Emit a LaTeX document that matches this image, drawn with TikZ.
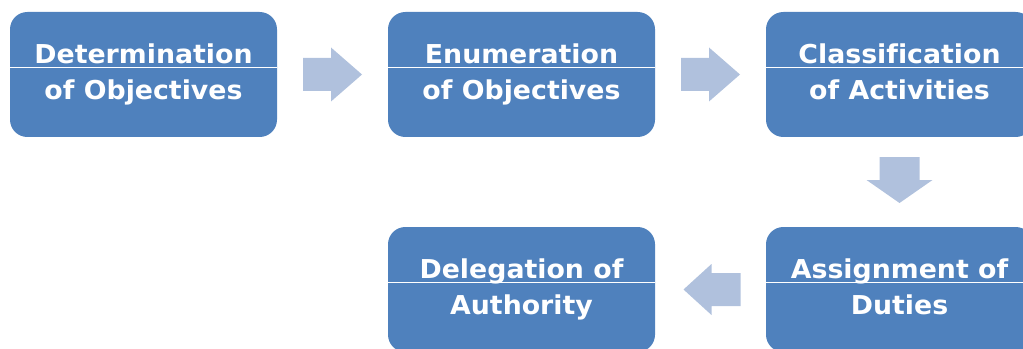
\documentclass[tikz,border=0pt]{standalone}
\usepackage{fontspec}
\newfontfamily\boxfont[FakeStretch=1.03,Ligatures=NoCommon]{DejaVu Sans}
\usetikzlibrary{calc}
\definecolor{boxblue}{RGB}{79,129,189}
\definecolor{arrowblue}{RGB}{176,193,221}
\newcommand{\dsc}{\vphantom{gjy}}
\begin{document}
\begin{tikzpicture}[x=0.75pt,y=-0.75pt,
  box/.style={rectangle, rounded corners=13pt, fill=boxblue, text=white,
    font=\boxfont\bfseries\fontsize{19.5}{27}\selectfont, align=center,
    minimum width=200.25pt, minimum height=93.75pt, inner sep=0pt},
  arr/.style={fill=arrowblue},
  gloss/.style={draw=white, line width=0.7pt}]
\useasboundingbox (0,0) rectangle (1023,349);
\clip (0,0) rectangle (1023,349);
\node[box] (b1) at (143.5,74.5) {Determination\\of Objectives\dsc};
\node[box] (b2) at (521.5,74.5) {Enumeration\\of Objectives\dsc};
\node[box] (b3) at (899.5,74.5) {Classification\\of Activities\dsc};
\node[box] (b4) at (899.5,289.5) {Assignment of\\Duties\dsc};
\node[box] (b5) at (521.5,289.5) {Delegation of\\Authority\dsc};
\foreach \b in {b1,b2,b3,b4,b5}{
  \draw[gloss] ($(\b.west)+(0,-7.5)$) -- ($(\b.east)+(0,-7.5)$);
}
\coordinate (a1) at ($(b1.east)!0.5!(b2.west)$);
\coordinate (a2) at ($(b2.east)!0.5!(b3.west)$);
\coordinate (a3) at ($(b3.south)!0.5!(b4.north)$);
\coordinate (a4) at ($(b4.west)!0.5!(b5.east)$);
\foreach \a in {a1,a2}{
  \begin{scope}[shift={(\a)}]
    \fill[arr] (-29.5,-16.5) -- (-1.5,-16.5) -- (-1.5,-27) -- (29.5,0) -- (-1.5,27) -- (-1.5,16.5) -- (-29.5,16.5) -- cycle;
  \end{scope}
}
\begin{scope}[shift={(a3)}]
  \fill[arr] (-20,-25) -- (20,-25) -- (20,-2) -- (33,-2) -- (0,21) -- (-33,-2) -- (-20,-2) -- cycle;
\end{scope}
\begin{scope}[shift={(a4)}]
  \fill[arr] (30,-16.5) -- (1,-16.5) -- (1,-25.5) -- (-27,0) -- (1,25.5) -- (1,16.5) -- (30,16.5) -- cycle;
\end{scope}
\end{tikzpicture}
\end{document}
